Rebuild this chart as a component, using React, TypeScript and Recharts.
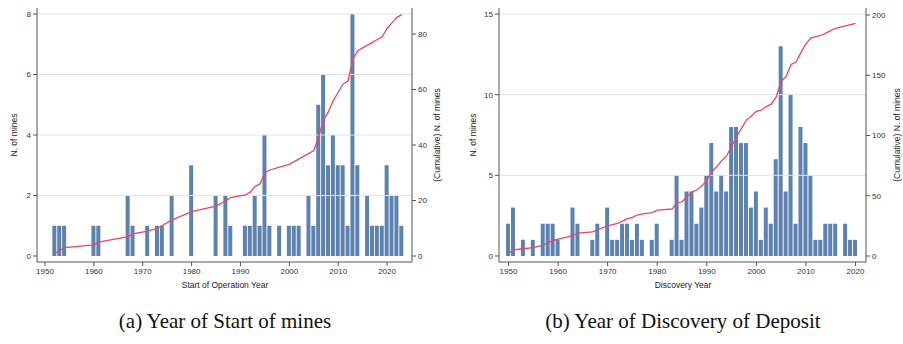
import React from 'react';
import { ComposedChart, Bar, Line, XAxis, YAxis, ReferenceLine } from 'recharts';

// (a) start of operation
const startYears = [1952, 1953, 1954, 1960, 1961, 1967, 1968, 1971, 1973, 1974, 1976, 1980, 1985, 1987, 1988, 1991, 1992, 1993, 1994, 1995, 1996, 1998, 2000, 2001, 2002, 2004, 2005, 2006, 2007, 2008, 2009, 2010, 2011, 2012, 2013, 2014, 2016, 2017, 2018, 2019, 2020, 2021, 2022, 2023];
const startCounts = [1, 1, 1, 1, 1, 2, 1, 1, 1, 1, 2, 3, 2, 2, 1, 1, 1, 2, 1, 4, 1, 1, 1, 1, 1, 2, 1, 5, 6, 3, 4, 3, 3, 1, 8, 3, 2, 1, 1, 1, 3, 2, 2, 1];
const startCumul = [1, 2, 3, 4, 5, 7, 8, 9, 10, 11, 13, 16, 18, 20, 21, 22, 23, 25, 26, 30, 31, 32, 33, 34, 35, 37, 38, 43, 49, 52, 56, 59, 62, 63, 71, 74, 76, 77, 78, 79, 82, 84, 86, 87];

// (b) discovery of deposit
const discYears = [1950, 1951, 1953, 1955, 1957, 1958, 1959, 1960, 1963, 1964, 1967, 1968, 1970, 1971, 1972, 1973, 1974, 1975, 1976, 1977, 1979, 1980, 1983, 1984, 1985, 1986, 1987, 1988, 1989, 1990, 1991, 1992, 1993, 1994, 1995, 1996, 1997, 1998, 1999, 2000, 2001, 2002, 2003, 2004, 2005, 2006, 2007, 2008, 2009, 2010, 2011, 2012, 2013, 2014, 2015, 2016, 2018, 2019, 2020];
const discCounts = [2, 3, 1, 1, 2, 2, 2, 1, 3, 2, 1, 2, 3, 1, 1, 2, 2, 1, 2, 1, 1, 2, 1, 5, 1, 4, 4, 2, 3, 5, 7, 4, 5, 4, 8, 8, 7, 7, 3, 4, 1, 3, 2, 6, 13, 4, 10, 2, 8, 7, 5, 1, 1, 2, 2, 2, 2, 1, 1];
const discCumul = [2, 5, 6, 7, 9, 11, 13, 14, 17, 19, 20, 22, 25, 26, 27, 29, 31, 32, 34, 35, 36, 38, 39, 44, 45, 49, 53, 55, 58, 63, 70, 74, 79, 83, 91, 99, 106, 113, 116, 120, 121, 124, 126, 132, 145, 149, 159, 161, 169, 176, 181, 182, 183, 185, 187, 189, 191, 192, 193];

const yearTicks = [1950, 1960, 1970, 1980, 1990, 2000, 2010, 2020];
const startLeftTicks = [0, 2, 4, 6, 8];
const startRightTicks = [0, 20, 40, 60, 80];
const discLeftTicks = [0, 5, 10, 15];
const discRightTicks = [0, 50, 100, 150, 200];

const BAR = '#5d82af';
const LINE = '#e6485f';
const AXIS = '#555';
const tick = { fontSize: 8, fill: '#333' };

function Panel({ rows, width, margin, xDomain, leftDomain, leftTicks, rightDomain, rightTicks }: any) {
  return (
    <ComposedChart width={width} height={300} data={rows} margin={margin}>
      {leftTicks.filter((t: number) => t > 0).map((t: number) => (
        <ReferenceLine key={t} yAxisId="left" y={t} stroke="#e2e2e2" />
      ))}
      <XAxis
        dataKey="year"
        type="number"
        domain={xDomain}
        ticks={yearTicks}
        allowDataOverflow
        interval={0}
        height={30}
        tickSize={4}
        stroke={AXIS}
        tick={tick}
      />
      <YAxis
        yAxisId="left"
        type="number"
        domain={leftDomain}
        ticks={leftTicks}
        allowDataOverflow
        interval={0}
        width={30}
        tickSize={4}
        stroke={AXIS}
        tick={tick}
      />
      <YAxis
        yAxisId="right"
        orientation="right"
        type="number"
        domain={rightDomain}
        ticks={rightTicks}
        allowDataOverflow
        interval={0}
        width={30}
        tickSize={4}
        stroke={AXIS}
        tick={tick}
      />
      <Bar yAxisId="left" dataKey="n" fill={BAR} barSize={4} isAnimationActive={false} />
      <Line
        yAxisId="right"
        type="linear"
        dataKey="cum"
        stroke={LINE}
        strokeWidth={1.3}
        dot={false}
        isAnimationActive={false}
      />
    </ComposedChart>
  );
}

export default function App() {
  const startRows = startYears.map((year, i) => ({ year, n: startCounts[i], cum: startCumul[i] }));
  const discRows = discYears.map((year, i) => ({ year, n: discCounts[i], cum: discCumul[i] }));
  const title = { fontSize: 8.5, fill: '#222', textAnchor: 'middle' as const, dominantBaseline: 'central' as const };
  const caption = { fontSize: 21, fill: '#111', textAnchor: 'middle' as const, fontFamily: '"Liberation Serif", serif' };

  return (
    <div
      style={{
        position: 'absolute',
        left: 0,
        top: 0,
        width: 903,
        height: 344,
        background: '#fff',
        fontFamily: '"Liberation Sans", Arial, sans-serif',
      }}
    >
      <div style={{ position: 'absolute', left: 0, top: 0 }}>
        <Panel
          rows={startRows}
          width={450}
          margin={{ top: 8, right: 8, bottom: 8, left: 7 }}
          xDomain={[1948.36, 2025.1]}
          leftDomain={[-0.198, 8.198]}
          leftTicks={startLeftTicks}
          rightDomain={[-2.16, 89.37]}
          rightTicks={startRightTicks}
        />
      </div>
      <div style={{ position: 'absolute', left: 460, top: 0 }}>
        <Panel
          rows={discRows}
          width={443}
          margin={{ top: 8, right: 7, bottom: 8, left: 9 }}
          xDomain={[1948.08, 2022.12]}
          leftDomain={[-0.372, 15.372]}
          leftTicks={discLeftTicks}
          rightDomain={[-4.98, 205.8]}
          rightTicks={discRightTicks}
        />
      </div>
      <svg width={903} height={344} style={{ position: 'absolute', left: 0, top: 0, pointerEvents: 'none' }}>
        <text {...title} transform="translate(14,135) rotate(-90)">N. of mines</text>
        <text {...title} transform="translate(437,135) rotate(-90)">(Cumulative) N. of mines</text>
        <text {...title} x={225} y={285}>Start of Operation Year</text>
        <text {...title} transform="translate(473,135) rotate(-90)">N. of mines</text>
        <text {...title} transform="translate(897,135) rotate(-90)">(Cumulative) N. of mines</text>
        <text {...title} x={683} y={285}>Discovery Year</text>
        <text {...caption} x={225} y={328}>(a) Year of Start of mines</text>
        <text {...caption} x={683} y={328}>(b) Year of Discovery of Deposit</text>
      </svg>
    </div>
  );
}
